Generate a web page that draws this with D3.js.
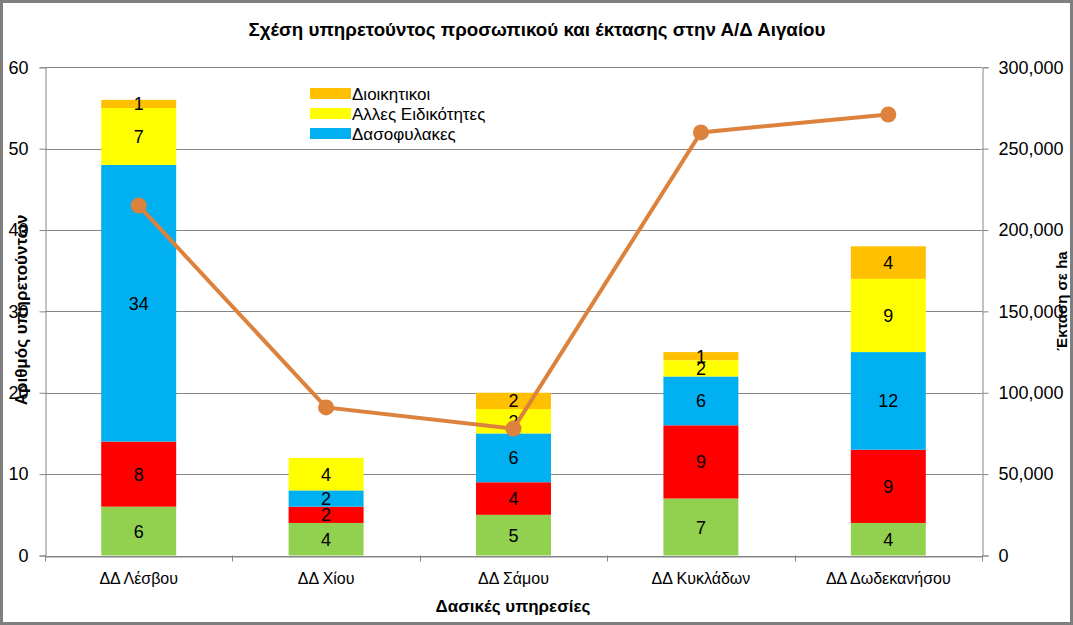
<!DOCTYPE html>
<html><head><meta charset="utf-8">
<script src="https://cdn.jsdelivr.net/npm/d3@7"></script>
<style>
body{margin:0;background:#fff;}
svg{display:block;}
text{font-family:"Liberation Sans Narrow","Liberation Sans",Arial,sans-serif;}
</style></head>
<body><svg id="c" width="1073" height="625"></svg>
<script>
const categories = ["ΔΔ Λέσβου","ΔΔ Χίου","ΔΔ Σάμου","ΔΔ Κυκλάδων","ΔΔ Δωδεκανήσου"];
const seriesNames = ["Δασολόγοι","Δασοπόνοι","Δασοφυλακες","Αλλες Ειδικότητες","Διοικητικοι"];
const seriesColors = ["#92D050","#FF0000","#00B0F0","#FFFF00","#FFC000"];
const greenVals = [6,4,5,7,4];
const redVals = [8,2,4,9,9];
const blueVals = [34,2,6,6,12];
const yellowVals = [7,4,3,2,9];
const orangeVals = [1,0,2,1,4];
const areaVals = [215000,91000,78000,260000,271000];
const leftTicks = [0,10,20,30,40,50,60];
const rightTicks = [0,50000,100000,150000,200000,250000,300000];
const legendShown = [4,3,2];

const svg = d3.select("#c");
const W=1073,H=625;
const m={l:45,r:982,t:67.3,b:555.5};

svg.append("rect").attr("x",1.5).attr("y",1.5).attr("width",W-3).attr("height",H-3)
  .attr("fill","#fff").attr("stroke","#7f7f7f").attr("stroke-width",3);

const x = d3.scaleBand().domain(categories).range([m.l,m.r]).paddingInner(0.6).paddingOuter(0.3);
const xc = d3.scaleBand().domain(categories).range([m.l,m.r]);
const y = d3.scaleLinear().domain([0,60]).range([m.b,m.t]);
const y2 = d3.scaleLinear().domain([0,300000]).range([m.b,m.t]);

// gridlines
svg.append("g").selectAll("line").data(leftTicks).join("line")
  .attr("x1",m.l).attr("x2",m.r).attr("y1",d=>Math.round(y(d))+0.5).attr("y2",d=>Math.round(y(d))+0.5)
  .attr("stroke","#868686").attr("stroke-width",1);

// left axis
const la = svg.append("g").attr("transform",`translate(${m.l+0.5},0)`)
  .call(d3.axisLeft(y).tickValues(leftTicks).tickSize(6).tickPadding(11).tickFormat(d3.format("d")));
la.select(".domain").attr("stroke","#868686");
la.selectAll(".tick line").attr("stroke","#868686");
la.selectAll(".tick text").attr("font-size",18).attr("fill","#000").attr("font-family","'Liberation Sans Narrow',Arial");

// right axis
const ra = svg.append("g").attr("transform",`translate(${m.r+0.5},0)`)
  .call(d3.axisRight(y2).tickValues(rightTicks).tickSize(6).tickPadding(10).tickFormat(d3.format(",")));
ra.select(".domain").attr("stroke","#868686");
ra.selectAll(".tick line").attr("stroke","#868686");
ra.selectAll(".tick text").attr("font-size",18).attr("fill","#000").attr("font-family","'Liberation Sans Narrow',Arial");

// bottom axis
const ba = svg.append("g").attr("transform",`translate(0,${Math.round(m.b)+0.5})`)
  .call(d3.axisBottom(xc).tickSize(0).tickPadding(16));
ba.select(".domain").attr("stroke","#868686");
ba.selectAll(".tick text").attr("font-size",16).attr("fill","#000").attr("font-family","'Liberation Sans Narrow',Arial");
svg.append("g").selectAll("line").data(d3.range(categories.length+1)).join("line")
  .attr("x1",i=>Math.round(m.l+i*xc.step())+0.5).attr("x2",i=>Math.round(m.l+i*xc.step())+0.5)
  .attr("y1",m.b).attr("y2",m.b+6).attr("stroke","#868686");

// stacked bars
const rows = categories.map((c,i)=>({cat:c,s0:greenVals[i],s1:redVals[i],s2:blueVals[i],s3:yellowVals[i],s4:orangeVals[i]}));
const stack = d3.stack().keys(["s0","s1","s2","s3","s4"])(rows);
const gb = svg.append("g");
stack.forEach((layer,k)=>{
  gb.append("g").selectAll("rect").data(layer).join("rect")
    .attr("x",d=>x(d.data.cat)).attr("width",x.bandwidth())
    .attr("y",d=>y(d[1])).attr("height",d=>y(d[0])-y(d[1]))
    .attr("fill",seriesColors[k]);
});
stack.forEach((layer,k)=>{
  gb.append("g").selectAll("text").data(layer.filter(d=>d[1]-d[0]>0)).join("text")
    .attr("x",d=>x(d.data.cat)+x.bandwidth()/2).attr("y",d=>(y(d[0])+y(d[1]))/2)
    .attr("dy","0.36em").attr("text-anchor","middle").attr("font-size",18).attr("fill","#000")
    .text(d=>d[1]-d[0]);
});

// line
const lineColor="#DC823C";
const pts = categories.map((c,i)=>[xc(c)+xc.bandwidth()/2, y2(areaVals[i])]);
svg.append("path").attr("d",d3.line()(pts)).attr("fill","none").attr("stroke",lineColor).attr("stroke-width",4);
svg.append("g").selectAll("circle").data(pts).join("circle")
  .attr("cx",d=>d[0]).attr("cy",d=>d[1]).attr("r",8).attr("fill",lineColor);

// legend
const lg = svg.append("g");
legendShown.forEach((k,j)=>{
  const yy = 88 + j*20;
  lg.append("rect").attr("x",310).attr("y",yy).attr("width",41).attr("height",11).attr("fill",seriesColors[k]);
  lg.append("text").attr("x",352).attr("y",yy+5.5).attr("dy","0.36em").attr("font-size",17).attr("fill","#000").text(seriesNames[k]);
});

// titles
svg.append("text").attr("x",537).attr("y",36).attr("text-anchor","middle").attr("font-size",19)
  .attr("font-weight","bold").attr("textLength",577).attr("lengthAdjust","spacingAndGlyphs")
  .text("Σχέση υπηρετούντος προσωπικού και έκτασης στην Α/Δ Αιγαίου");
svg.append("text").attr("x",513).attr("y",612).attr("text-anchor","middle").attr("font-size",17)
  .attr("font-weight","bold").text("Δασικές υπηρεσίες");
svg.append("text").attr("transform","translate(27,310) rotate(-90)").attr("text-anchor","middle")
  .attr("font-size",17).attr("font-weight","bold").text("Αριθμός υπηρετούντων");
svg.append("text").attr("transform","translate(1067,301) rotate(-90)").attr("text-anchor","middle")
  .attr("font-size",15).attr("font-weight","bold").attr("font-family","'Liberation Sans',Arial").text("Έκταση σε ha");
</script></body></html>
